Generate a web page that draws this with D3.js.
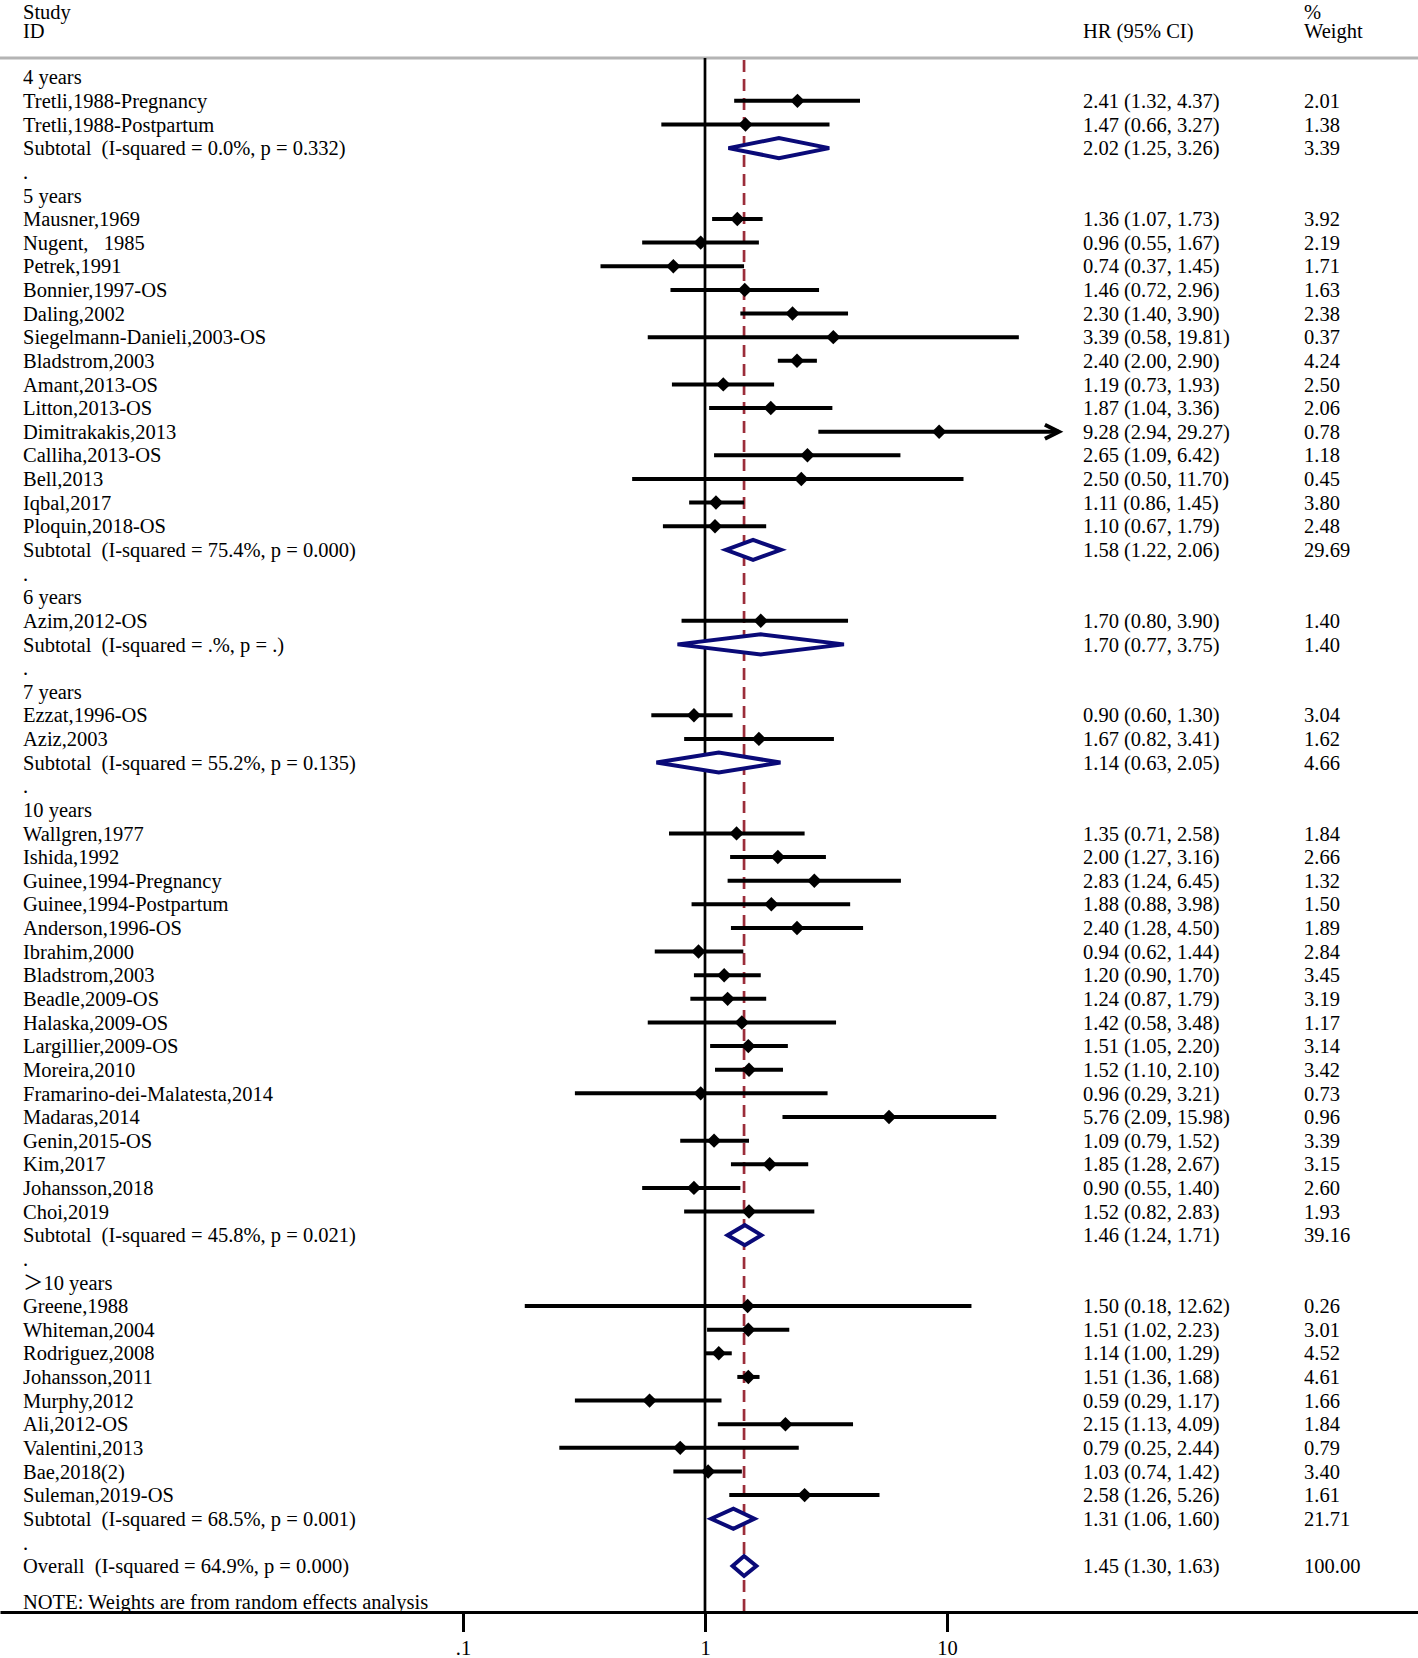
<!DOCTYPE html>
<html><head><meta charset="utf-8">
<script src="https://cdn.jsdelivr.net/npm/d3@7"></script>
<style>
html,body{margin:0;padding:0;background:#fff;}
svg{display:block;font-family:"Liberation Serif","Times New Roman","Noto Sans CJK SC",serif;}
text{white-space:pre;}
</style></head><body>
<svg id="chart" width="1418" height="1658"></svg>
<script>
// ---------------- DATA ----------------
const rowLabels = [
  "4 years","Tretli,1988-Pregnancy","Tretli,1988-Postpartum","Subtotal  (I-squared = 0.0%, p = 0.332)",".",
  "5 years","Mausner,1969","Nugent,   1985","Petrek,1991","Bonnier,1997-OS","Daling,2002","Siegelmann-Danieli,2003-OS",
  "Bladstrom,2003","Amant,2013-OS","Litton,2013-OS","Dimitrakakis,2013","Calliha,2013-OS","Bell,2013","Iqbal,2017",
  "Ploquin,2018-OS","Subtotal  (I-squared = 75.4%, p = 0.000)",".",
  "6 years","Azim,2012-OS","Subtotal  (I-squared = .%, p = .)",".",
  "7 years","Ezzat,1996-OS","Aziz,2003","Subtotal  (I-squared = 55.2%, p = 0.135)",".",
  "10 years","Wallgren,1977","Ishida,1992","Guinee,1994-Pregnancy","Guinee,1994-Postpartum","Anderson,1996-OS",
  "Ibrahim,2000","Bladstrom,2003","Beadle,2009-OS","Halaska,2009-OS","Largillier,2009-OS","Moreira,2010",
  "Framarino-dei-Malatesta,2014","Madaras,2014","Genin,2015-OS","Kim,2017","Johansson,2018","Choi,2019",
  "Subtotal  (I-squared = 45.8%, p = 0.021)",".",
  "\uFF1E10 years","Greene,1988","Whiteman,2004","Rodriguez,2008","Johansson,2011","Murphy,2012","Ali,2012-OS",
  "Valentini,2013","Bae,2018(2)","Suleman,2019-OS","Subtotal  (I-squared = 68.5%, p = 0.001)",".",
  "Overall  (I-squared = 64.9%, p = 0.000)"
];
// kinds: g = group header, s = study, t = subtotal, b = spacer, o = overall
const rowKinds = [
  "g","s","s","t","b",
  "g","s","s","s","s","s","s","s","s","s","s","s","s","s","s","t","b",
  "g","s","t","b",
  "g","s","s","t","b",
  "g","s","s","s","s","s","s","s","s","s","s","s","s","s","s","s","s","s","t","b",
  "g","s","s","s","s","s","s","s","s","s","t","b",
  "o"
];
const hrValues = [
  null,2.41,1.47,2.02,null,
  null,1.36,0.96,0.74,1.46,2.30,3.39,2.40,1.19,1.87,9.28,2.65,2.50,1.11,1.10,1.58,null,
  null,1.70,1.70,null,
  null,0.90,1.67,1.14,null,
  null,1.35,2.00,2.83,1.88,2.40,0.94,1.20,1.24,1.42,1.51,1.52,0.96,5.76,1.09,1.85,0.90,1.52,1.46,null,
  null,1.50,1.51,1.14,1.51,0.59,2.15,0.79,1.03,2.58,1.31,null,
  1.45
];
const ciLower = [
  null,1.32,0.66,1.25,null,
  null,1.07,0.55,0.37,0.72,1.40,0.58,2.00,0.73,1.04,2.94,1.09,0.50,0.86,0.67,1.22,null,
  null,0.80,0.77,null,
  null,0.60,0.82,0.63,null,
  null,0.71,1.27,1.24,0.88,1.28,0.62,0.90,0.87,0.58,1.05,1.10,0.29,2.09,0.79,1.28,0.55,0.82,1.24,null,
  null,0.18,1.02,1.00,1.36,0.29,1.13,0.25,0.74,1.26,1.06,null,
  1.30
];
const ciUpper = [
  null,4.37,3.27,3.26,null,
  null,1.73,1.67,1.45,2.96,3.90,19.81,2.90,1.93,3.36,29.27,6.42,11.70,1.45,1.79,2.06,null,
  null,3.90,3.75,null,
  null,1.30,3.41,2.05,null,
  null,2.58,3.16,6.45,3.98,4.50,1.44,1.70,1.79,3.48,2.20,2.10,3.21,15.98,1.52,2.67,1.40,2.83,1.71,null,
  null,12.62,2.23,1.29,1.68,1.17,4.09,2.44,1.42,5.26,1.60,null,
  1.63
];
const weights = [
  null,2.01,1.38,3.39,null,
  null,3.92,2.19,1.71,1.63,2.38,0.37,4.24,2.50,2.06,0.78,1.18,0.45,3.80,2.48,29.69,null,
  null,1.40,1.40,null,
  null,3.04,1.62,4.66,null,
  null,1.84,2.66,1.32,1.50,1.89,2.84,3.45,3.19,1.17,3.14,3.42,0.73,0.96,3.39,3.15,2.60,1.93,39.16,null,
  null,0.26,3.01,4.52,4.61,1.66,1.84,0.79,3.40,1.61,21.71,null,
  100.00
];
const overallHR = 1.45;
const tickValues = [0.1, 1, 10];
const tickLabels = [".1", "1", "10"];
const plotMaxHR = 29;   // CIs beyond this get an arrow
const noteText = "NOTE: Weights are from random effects analysis";

// ---------------- LAYOUT ----------------
const W = 1418, H = 1658;
const FS = 20.5;
const svg = d3.select("#chart");
const x = d3.scaleLog().domain([0.1, 10]).range([463, 947]);
const y = d3.scaleLinear().domain([0, 63]).range([77.2, 1566]);
const axisY = 1612;
const topLineY = 58;
const xLabel = 23, xHR = 1083, xW = 1304;

svg.append("rect").attr("width", W).attr("height", H).attr("fill", "#fff");

// header
const hdr = svg.append("g").attr("font-size", FS).attr("fill", "#000");
hdr.append("text").attr("x", xLabel).attr("y", 12).attr("dy", "0.35em").text("Study");
hdr.append("text").attr("x", xLabel).attr("y", 31).attr("dy", "0.35em").text("ID");
hdr.append("text").attr("x", xHR).attr("y", 31).attr("dy", "0.35em").text("HR (95% CI)");
hdr.append("text").attr("x", xW).attr("y", 12).attr("dy", "0.35em").text("%");
hdr.append("text").attr("x", xW).attr("y", 31).attr("dy", "0.35em").text("Weight");

svg.append("line").attr("x1", 0).attr("x2", W).attr("y1", topLineY).attr("y2", topLineY)
  .attr("stroke", "#b4b4b4").attr("stroke-width", 3);

// reference lines
svg.append("line").attr("x1", x(1)).attr("x2", x(1)).attr("y1", topLineY).attr("y2", axisY)
  .attr("stroke", "#000").attr("stroke-width", 2.7);
svg.append("line").attr("x1", x(overallHR)).attr("x2", x(overallHR)).attr("y1", topLineY + 2).attr("y2", axisY)
  .attr("stroke", "#9b2d3a").attr("stroke-width", 2.7).attr("stroke-dasharray", "12,7");

const rows = rowLabels.map((lab, i) => ({
  i, lab, kind: rowKinds[i], hr: hrValues[i], lo: ciLower[i], hi: ciUpper[i], w: weights[i]
}));

// labels
const tg = svg.append("g").attr("font-size", FS).attr("fill", "#000");
tg.selectAll("text.lab").data(rows).join("text")
  .attr("class", "lab").attr("x", xLabel).attr("y", d => y(d.i)).attr("dy", "0.35em")
  .text(d => d.lab);
const numRows = rows.filter(d => d.hr != null);
tg.selectAll("text.hr").data(numRows).join("text")
  .attr("class", "hr").attr("x", xHR).attr("y", d => y(d.i)).attr("dy", "0.35em")
  .text(d => `${d.hr.toFixed(2)} (${d.lo.toFixed(2)}, ${d.hi.toFixed(2)})`);
tg.selectAll("text.w").data(numRows).join("text")
  .attr("class", "w").attr("x", xW).attr("y", d => y(d.i)).attr("dy", "0.35em")
  .text(d => d.w.toFixed(2));
tg.append("text").attr("x", xLabel).attr("y", y(64.5)).attr("dy", "0.35em").text(noteText);

// study CIs
const studies = rows.filter(d => d.kind === "s");
const mg = svg.append("g");
mg.selectAll("line.ci").data(studies).join("line")
  .attr("x1", d => x(d.lo)).attr("x2", d => x(Math.min(d.hi, plotMaxHR)))
  .attr("y1", d => y(d.i)).attr("y2", d => y(d.i))
  .attr("stroke", "#000").attr("stroke-width", 4);
// arrows for clipped CIs
const clipped = studies.filter(d => d.hi > plotMaxHR);
mg.selectAll("path.arrow").data(clipped).join("path")
  .attr("d", d => {
    const ex = x(plotMaxHR), ey = y(d.i);
    return `M${ex - 14},${ey - 7}L${ex},${ey}L${ex - 14},${ey + 7}`;
  })
  .attr("fill", "none").attr("stroke", "#000").attr("stroke-width", 4);
// point estimate diamonds
const ps = 7.2;
mg.selectAll("path.pt").data(studies).join("path")
  .attr("d", d => {
    const cx = x(d.hr), cy = y(d.i);
    return `M${cx - ps},${cy}L${cx},${cy - ps}L${cx + ps},${cy}L${cx},${cy + ps}Z`;
  })
  .attr("fill", "#000");

// pooled diamonds
const pooled = rows.filter(d => d.kind === "t" || d.kind === "o");
const dh = 10;
mg.selectAll("path.pool").data(pooled).join("path")
  .attr("d", d => {
    const cy = y(d.i);
    return `M${x(d.lo)},${cy}L${x(d.hr)},${cy - dh}L${x(d.hi)},${cy}L${x(d.hr)},${cy + dh}Z`;
  })
  .attr("fill", "#fff").attr("stroke", "#0a0a78").attr("stroke-width", 4).attr("stroke-linejoin", "miter");

// bottom axis spanning full width
const axisScale = x.copy().domain([x.invert(0), x.invert(W)]).range([0, W]);
const ax = svg.append("g").attr("transform", `translate(0,${axisY})`)
  .call(d3.axisBottom(axisScale).tickValues(tickValues)
    .tickFormat((v, k) => tickLabels[k]).tickSize(20).tickSizeOuter(0).tickPadding(8));
ax.select(".domain").attr("stroke", "#000").attr("stroke-width", 3);
ax.selectAll(".tick line").attr("stroke", "#000").attr("stroke-width", 3);
ax.selectAll(".tick text").attr("font-size", FS).attr("fill", "#000")
  .attr("font-family", "'Liberation Serif','Times New Roman',serif");
</script>
</body></html>
